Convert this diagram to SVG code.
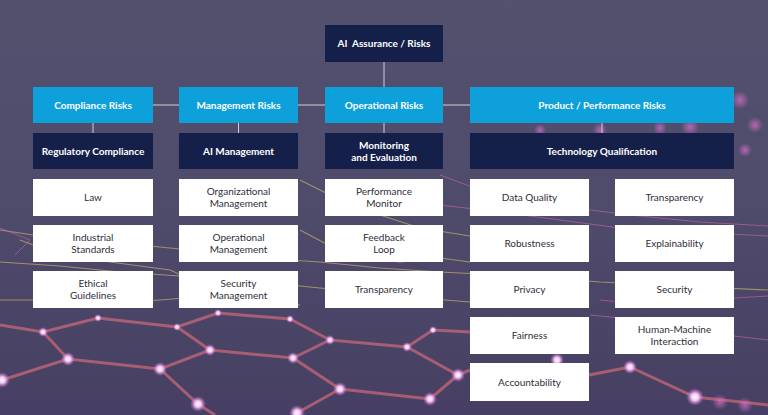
<svg xmlns="http://www.w3.org/2000/svg" width="768" height="415" viewBox="0 0 768 415">
<defs>
<linearGradient id="bg" x1="0" y1="0" x2="0" y2="1">
<stop offset="0" stop-color="#54516f"/>
<stop offset="0.5" stop-color="#4f4b6b"/>
<stop offset="1" stop-color="#463f63"/>
</linearGradient>
<radialGradient id="dot" cx="0.5" cy="0.5" r="0.5">
<stop offset="0" stop-color="#ffffff"/>
<stop offset="0.4" stop-color="#f4c6f4"/>
<stop offset="1" stop-color="#d060d0" stop-opacity="0"/>
</radialGradient>
<radialGradient id="bokeh" cx="0.5" cy="0.5" r="0.5">
<stop offset="0" stop-color="#e070d0" stop-opacity="0.7"/>
<stop offset="1" stop-color="#e070d0" stop-opacity="0"/>
</radialGradient>
<style>
.hdr{fill:#0ea0da}
.dark{fill:#14204a}
.wbox{fill:#ffffff}
.th{font-family:Lato,"Liberation Sans",sans-serif;font-size:10px;font-weight:bold;fill:#ffffff;text-anchor:middle}
.tw{font-family:Lato,"Liberation Sans",sans-serif;font-size:10px;fill:#2e2e3a;text-anchor:middle}
.con{stroke:#cfcfd8;stroke-width:1;fill:none}
.mesh{stroke:#e8707c;stroke-width:3;fill:none;stroke-opacity:0.6}
.mesh2{stroke:#d8c070;stroke-width:1.2;fill:none;stroke-opacity:0.6}
.mesh3{stroke:#d868b0;stroke-width:1;fill:none;stroke-opacity:0.55}
</style>
</defs>
<rect x="0" y="0" width="768" height="415" fill="url(#bg)"/>
<g id="background">
<g class="mesh2">
<polyline points="0,230 40,236 90,240 150,246 210,252 260,258 320,262 380,268 440,272 520,276 600,282 680,286 768,290"/>
<polyline points="0,262 60,266 120,272 180,276 240,280 300,286 360,292 420,298 470,302"/>
<polyline points="20,240 60,255 110,262 170,270 215,290 260,300 300,305"/>
<polyline points="300,180 340,200 380,215 420,228 470,236"/>
<polyline points="300,230 330,246 360,258 400,262 440,258 470,262"/>
<polyline points="0,300 50,300 100,304 160,300 220,295 280,290"/>
</g>
<g class="mesh3">
<polyline points="440,175 480,190 530,200 590,210 640,216 700,222 768,226"/>
<polyline points="440,205 500,212 560,220 620,228 690,232 768,236"/>
<polyline points="600,300 650,305 700,300 768,296"/>
<polyline points="590,315 640,320 700,332 768,340"/>
<polyline points="0,228 30,240 15,255"/>
</g>
<g class="mesh">
<polyline points="2,380 68,359 160,369 210,350 293,358 330,340 407,347 433,330 470,332"/>
<polyline points="43,332 68,359"/>
<polyline points="0,325 43,332 98,318 177,327 210,350"/>
<polyline points="177,327 218,313 290,319 330,340"/>
<polyline points="293,358 340,389 430,399 458,375"/>
<polyline points="407,347 458,375 470,370"/>
<polyline points="160,369 198,404 215,415"/>
<polyline points="340,389 297,413"/>
<polyline points="589,375 630,367 695,397 768,405"/>
</g>
<g>
<circle cx="68" cy="359" r="7" fill="url(#dot)"/>
<circle cx="160" cy="369" r="7" fill="url(#dot)"/>
<circle cx="210" cy="350" r="6" fill="url(#dot)"/>
<circle cx="293" cy="358" r="6" fill="url(#dot)"/>
<circle cx="330" cy="340" r="5" fill="url(#dot)"/>
<circle cx="407" cy="347" r="5" fill="url(#dot)"/>
<circle cx="340" cy="389" r="7" fill="url(#dot)"/>
<circle cx="430" cy="399" r="7" fill="url(#dot)"/>
<circle cx="458" cy="375" r="7" fill="url(#dot)"/>
<circle cx="198" cy="404" r="8" fill="url(#dot)"/>
<circle cx="2" cy="380" r="8" fill="url(#dot)"/>
<circle cx="43" cy="332" r="5" fill="url(#dot)"/>
<circle cx="98" cy="318" r="4" fill="url(#dot)"/>
<circle cx="177" cy="327" r="4" fill="url(#dot)"/>
<circle cx="218" cy="313" r="4" fill="url(#dot)"/>
<circle cx="290" cy="319" r="4" fill="url(#dot)"/>
<circle cx="433" cy="330" r="4" fill="url(#dot)"/>
<circle cx="297" cy="413" r="8" fill="url(#dot)"/>
<circle cx="557" cy="360" r="7" fill="url(#dot)"/>
<circle cx="630" cy="367" r="7" fill="url(#dot)"/>
<circle cx="695" cy="397" r="9" fill="url(#dot)"/>
<circle cx="720" cy="402" r="8" fill="url(#bokeh)"/>
<circle cx="745" cy="405" r="8" fill="url(#bokeh)"/>
<circle cx="740" cy="100" r="9" fill="url(#bokeh)"/>
<circle cx="755" cy="125" r="8" fill="url(#bokeh)"/>
<circle cx="745" cy="150" r="7" fill="url(#bokeh)"/>
<circle cx="690" cy="127" r="9" fill="url(#bokeh)"/>
<circle cx="660" cy="128" r="7" fill="url(#bokeh)"/>
<circle cx="600" cy="130" r="7" fill="url(#bokeh)"/>
<circle cx="540" cy="130" r="6" fill="url(#bokeh)"/>
<circle cx="710" cy="110" r="6" fill="url(#bokeh)"/>
</g>
</g>
<g id="connectors">
<line class="con" x1="153" y1="105" x2="470" y2="105"/>
<line class="con" x1="384" y1="62" x2="384" y2="87"/>
<line class="con" x1="93" y1="123" x2="93" y2="133"/>
<line class="con" x1="238.5" y1="123" x2="238.5" y2="133"/>
<line class="con" x1="384" y1="123" x2="384" y2="133"/>
<line class="con" x1="602" y1="123" x2="602" y2="133"/>
</g>
<g id="root"><rect class="dark" x="325" y="25" width="118" height="37"/><text class="th" x="384" y="47" style="white-space:pre">AI  Assurance / Risks</text></g>
<g id="compliance-risks"><rect class="hdr" x="33" y="87" width="120" height="36"/><text class="th" x="93" y="108.5">Compliance Risks</text></g>
<g id="management-risks"><rect class="hdr" x="179" y="87" width="119" height="36"/><text class="th" x="238.5" y="108.5">Management Risks</text></g>
<g id="operational-risks"><rect class="hdr" x="325" y="87" width="118" height="36"/><text class="th" x="384" y="108.5">Operational Risks</text></g>
<g id="product-risks"><rect class="hdr" x="470" y="87" width="264" height="36"/><text class="th" x="602" y="108.5">Product / Performance Risks</text></g>
<g id="regulatory-compliance"><rect class="dark" x="33" y="133" width="120" height="36"/><text class="th" x="93" y="154.5">Regulatory Compliance</text></g>
<g id="ai-management"><rect class="dark" x="179" y="133" width="119" height="36"/><text class="th" x="238.5" y="154.5">AI Management</text></g>
<g id="monitoring"><rect class="dark" x="325" y="133" width="118" height="36"/><text class="th" x="384" y="149"><tspan x="384">Monitoring</tspan><tspan x="384" dy="11.6">and Evaluation</tspan></text></g>
<g id="technology-qualification"><rect class="dark" x="470" y="133" width="264" height="36"/><text class="th" x="602" y="154.5">Technology Qualification</text></g>
<g id="law"><rect class="wbox" x="33" y="179" width="120" height="37"/><text class="tw" x="93" y="201">Law</text></g>
<g id="industrial-standards"><rect class="wbox" x="33" y="225" width="120" height="37"/><text class="tw" x="93" y="241"><tspan x="93">Industrial</tspan><tspan x="93" dy="11.5">Standards</tspan></text></g>
<g id="ethical-guidelines"><rect class="wbox" x="33" y="271" width="120" height="37"/><text class="tw" x="93" y="287"><tspan x="93">Ethical</tspan><tspan x="93" dy="11.5">Guidelines</tspan></text></g>
<g id="organizational-management"><rect class="wbox" x="179" y="179" width="119" height="37"/><text class="tw" x="238.5" y="195"><tspan x="238.5">Organizational</tspan><tspan x="238.5" dy="11.5">Management</tspan></text></g>
<g id="operational-management"><rect class="wbox" x="179" y="225" width="119" height="37"/><text class="tw" x="238.5" y="241"><tspan x="238.5">Operational</tspan><tspan x="238.5" dy="11.5">Management</tspan></text></g>
<g id="security-management"><rect class="wbox" x="179" y="271" width="119" height="37"/><text class="tw" x="238.5" y="287"><tspan x="238.5">Security</tspan><tspan x="238.5" dy="11.5">Management</tspan></text></g>
<g id="performance-monitor"><rect class="wbox" x="325" y="179" width="118" height="37"/><text class="tw" x="384" y="195"><tspan x="384">Performance</tspan><tspan x="384" dy="11.5">Monitor</tspan></text></g>
<g id="feedback-loop"><rect class="wbox" x="325" y="225" width="118" height="37"/><text class="tw" x="384" y="241"><tspan x="384">Feedback</tspan><tspan x="384" dy="11.5">Loop</tspan></text></g>
<g id="transparency-op"><rect class="wbox" x="325" y="271" width="118" height="37"/><text class="tw" x="384" y="293">Transparency</text></g>
<g id="data-quality"><rect class="wbox" x="470" y="179" width="119" height="37"/><text class="tw" x="529.5" y="201">Data Quality</text></g>
<g id="robustness"><rect class="wbox" x="470" y="225" width="119" height="37"/><text class="tw" x="529.5" y="247">Robustness</text></g>
<g id="privacy"><rect class="wbox" x="470" y="271" width="119" height="37"/><text class="tw" x="529.5" y="293">Privacy</text></g>
<g id="fairness"><rect class="wbox" x="470" y="317" width="119" height="37"/><text class="tw" x="529.5" y="339">Fairness</text></g>
<g id="accountability"><rect class="wbox" x="470" y="363" width="119" height="38"/><text class="tw" x="529.5" y="385.5">Accountability</text></g>
<g id="transparency"><rect class="wbox" x="615" y="179" width="119" height="37"/><text class="tw" x="674.5" y="201">Transparency</text></g>
<g id="explainability"><rect class="wbox" x="615" y="225" width="119" height="37"/><text class="tw" x="674.5" y="247">Explainability</text></g>
<g id="security"><rect class="wbox" x="615" y="271" width="119" height="37"/><text class="tw" x="674.5" y="293">Security</text></g>
<g id="human-machine"><rect class="wbox" x="615" y="317" width="119" height="37"/><text class="tw" x="674.5" y="333"><tspan x="674.5">Human-Machine</tspan><tspan x="674.5" dy="11.5">Interaction</tspan></text></g>
</svg>
